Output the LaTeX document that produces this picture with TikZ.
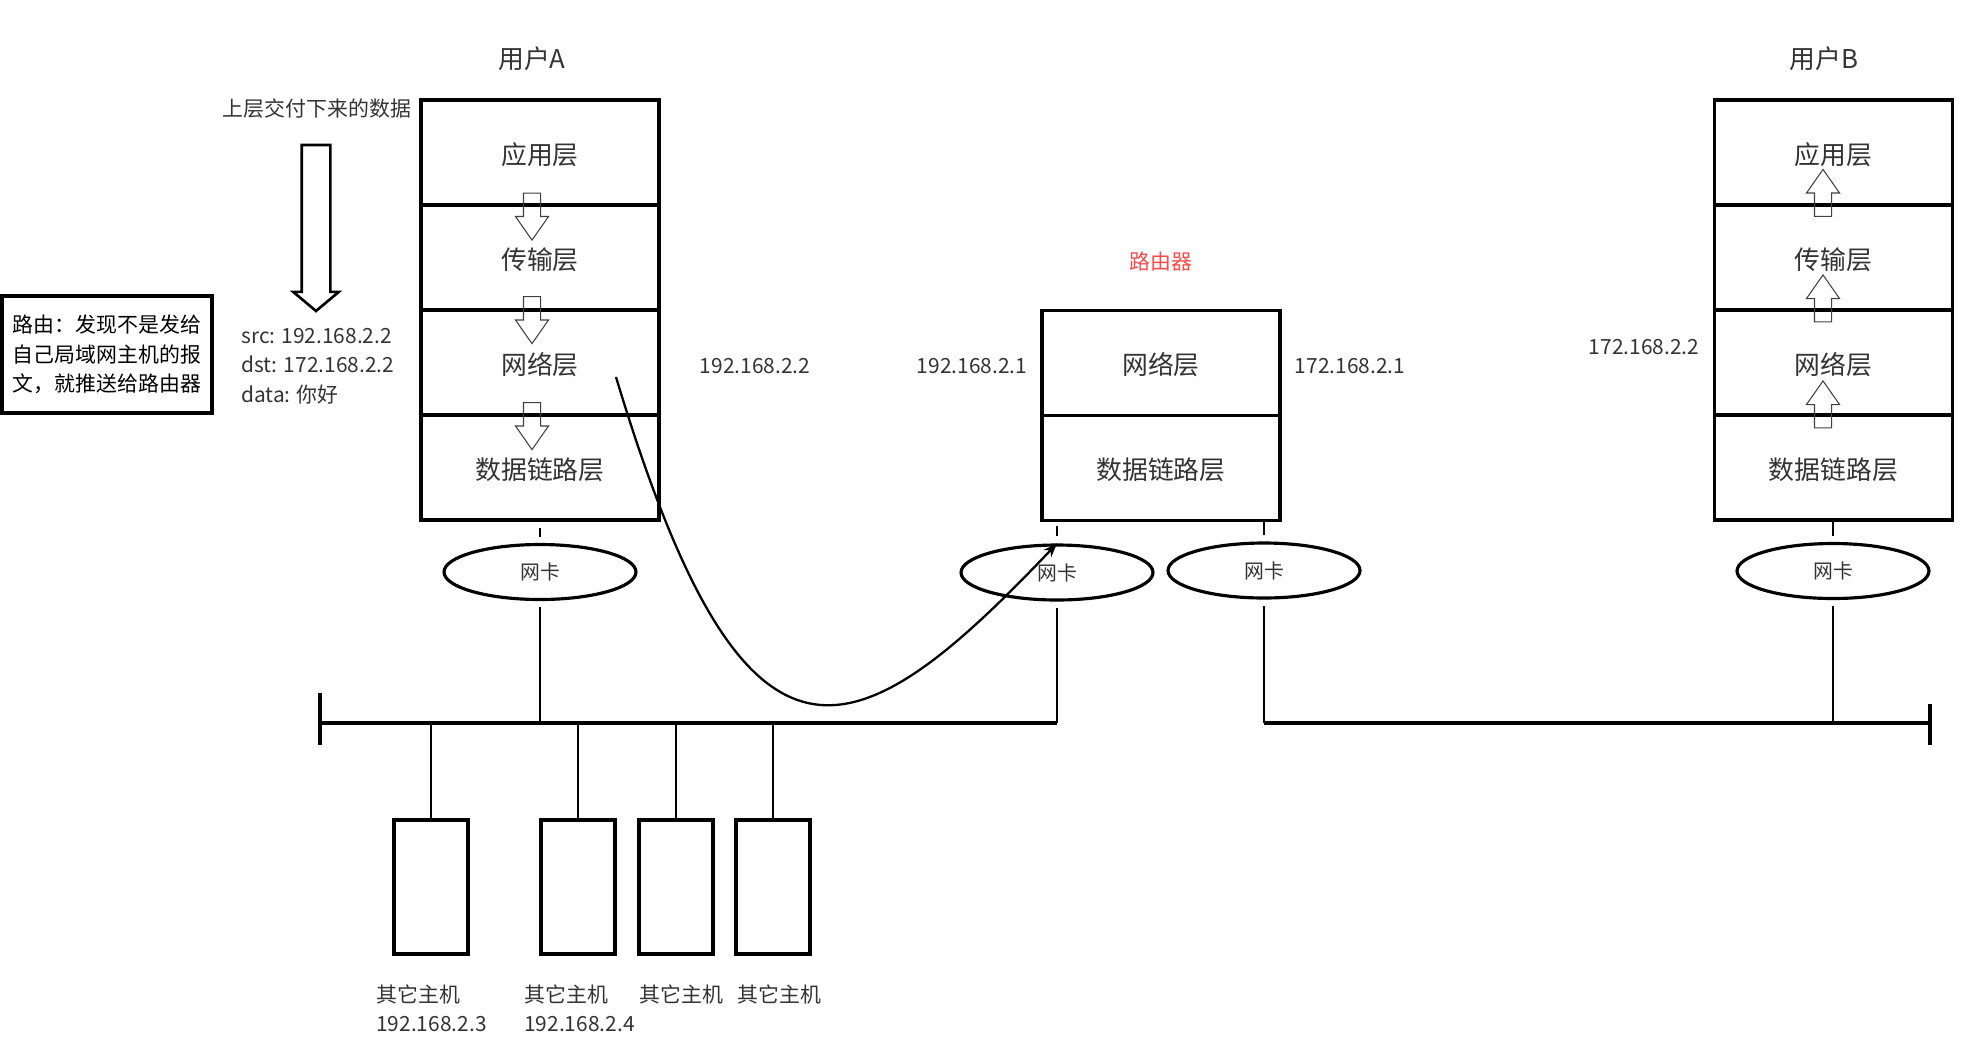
\documentclass[tikz,border=0pt]{standalone}
\usepackage{fontspec}
\setmainfont{Noto Sans CJK SC}
\usetikzlibrary{positioning,shapes.geometric,shapes.arrows,arrows.meta,calc}

\definecolor{txtgray}{RGB}{51,51,51}
\definecolor{routerred}{RGB}{250,75,75}

\tikzset{
  layer/.style={draw, line width=1.9pt, minimum width=4.76cm, minimum height=2.1cm,
    outer sep=0pt, inner sep=0pt, text height=1.42em, text depth=0.075em,
    text=txtgray, font=\fontsize{14.7}{17}\selectfont},
  nic/.style={draw, ellipse, line width=1.8pt, minimum width=3.84cm, minimum height=1.1cm,
    inner sep=0pt, text=txtgray, font=\fontsize{11.3}{13}\selectfont},
  host/.style={draw, line width=1.8pt, minimum width=1.48cm, minimum height=2.68cm, inner sep=0pt},
  lbl/.style={inner sep=0pt, text=txtgray, font=\fontsize{11.9}{16.7}\selectfont},
  title/.style={inner sep=0pt, text=txtgray, font=\fontsize{14.7}{17}\selectfont},
  notebox/.style={draw, line width=1.8pt, minimum width=4.2cm, minimum height=2.34cm,
    inner sep=0pt, align=left, font=\fontsize{11.9}{16.7}\selectfont},
  passarrow/.style={single arrow, draw=black!75, line width=0.6pt, minimum height=0.94cm,
    minimum width=0pt, inner xsep=0pt, inner ysep=0.16cm,
    single arrow head extend=0.16cm, single arrow tip angle=70},
  bigarrow/.style={single arrow, draw, line width=1.5pt, minimum height=3.32cm,
    minimum width=0pt, inner xsep=0pt, inner ysep=0.26cm,
    single arrow head extend=0.17cm, single arrow tip angle=100},
  wire/.style={line width=1.3pt},
  bus/.style={line width=1.8pt},
  hop/.style={line width=1.3pt, -{Stealth[length=8pt, width=6pt]}}
}

\begin{document}
\begin{tikzpicture}[x=0.02cm, y=-0.02cm]
	\useasboundingbox (0,0) rectangle (1971,1056);

	% user A
	\node [title]                  (userA) at (532,59)     {用户A};
	\node [layer]                  (a1)    at (540,152.5)  {应用层};
	\node [layer, below=0pt of a1] (a2)                    {传输层};
	\node [layer, below=0pt of a2] (a3)                    {网络层};
	\node [layer, below=0pt of a3] (a4)                    {数据链路层};
	\foreach \y [count=\i] in {210.5,314,420}
		\node [passarrow, rotate=-90] (ad\i) at (532,\y) {};

	% data handed down, and the note
	\node [lbl]                    (handed) at (317,109)   {上层交付下来的数据};
	\node [bigarrow, rotate=-90]   (down)   at (316,222)   {};
	\node [lbl, align=left, anchor=north west] (pkt) at (241,328)
		{src: 192.168.2.2\\dst: 172.168.2.2\\data: 你好};
	\node [notebox]                (note)   at (107,354.5)
		{路由：发现不是发给\\自己局域网主机的报\\文，就推送给路由器};

	% router
	\node [lbl, text=routerred]    (rname) at (1161,262)   {路由器};
	\node [layer]                  (r1)    at (1161,363)   {网络层};
	\node [layer, below=0pt of r1] (r2)                    {数据链路层};

	% user B
	\node [title]                  (userB) at (1824,59)    {用户B};
	\node [layer]                  (b1)    at (1833.5,152.5) {应用层};
	\node [layer, below=0pt of b1] (b2)                    {传输层};
	\node [layer, below=0pt of b2] (b3)                    {网络层};
	\node [layer, below=0pt of b3] (b4)                    {数据链路层};
	\foreach \y [count=\i] in {199,304.5,410.5}
		\node [passarrow, rotate=90] (au\i) at (1823,\y) {};

	% addresses
	\node [lbl] (ipA)  at (755,366)  {192.168.2.2};
	\node [lbl] (ipR1) at (972,366)  {192.168.2.1};
	\node [lbl] (ipR2) at (1350,366) {172.168.2.1};
	\node [lbl] (ipB)  at (1644,347) {172.168.2.2};

	% network cards
	\node [nic] (nA)  at (540,572)    {网卡};
	\node [nic] (nR1) at (1057,572.5) {网卡};
	\node [nic] (nR2) at (1264,570.5) {网卡};
	\node [nic] (nB)  at (1833,571)   {网卡};

	\draw [wire] ($(a4.south)+(0,8)$)  -- ($(nA.north)+(0,-6)$);
	\draw [wire] ($(nR1.north)+(0,-17)$) -- ($(nR1.north)+(0,-7)$);
	\draw [wire] (r2.south -| nR2)     -- ($(nR2.north)+(0,-6)$);
	\draw [wire] (b4.south -| nB)      -- ($(nB.north)+(0,-6)$);

	% the two segments
	\coordinate (busL) at (320,723);
	\coordinate (busR) at (1930,723);
	\draw [bus] (busL) -- (nR1 |- busL);
	\draw [bus] (nR2 |- busR) -- (busR);
	\draw [bus] ($(busL)+(0,-30)$) -- ($(busL)+(0,22)$);
	\draw [bus] ($(busR)+(0,-19)$) -- ($(busR)+(0,22)$);
	\foreach \n in {nA,nR1,nR2,nB}
		\draw [wire] ($(\n.south)+(0,6)$) -- (\n |- busL);

	% other hosts
	\node [host] (h1) at (431,887) {};
	\node [host] (h2) at (578,887) {};
	\node [host] (h3) at (676,887) {};
	\node [host] (h4) at (773,887) {};
	\foreach \h in {h1,h2,h3,h4}
		\draw [wire] (\h.north) -- (\h |- busL);
	\node [lbl, align=left, anchor=north west] (t1) at (376,984) {其它主机\\192.168.2.3};
	\node [lbl, align=left, anchor=north west] (t2) at (524,984) {其它主机\\192.168.2.4};
	\node [lbl, align=left, anchor=north west] (t3) at (639,984) {其它主机};
	\node [lbl, align=left, anchor=north west] (t4) at (737,984) {其它主机};

	% the packet goes to the router
	\coordinate (pktStart) at (616,377);
	\draw [hop] (pktStart) .. controls +(129,429) and +(-205,216) .. (nR1.north);
\end{tikzpicture}
\end{document}
